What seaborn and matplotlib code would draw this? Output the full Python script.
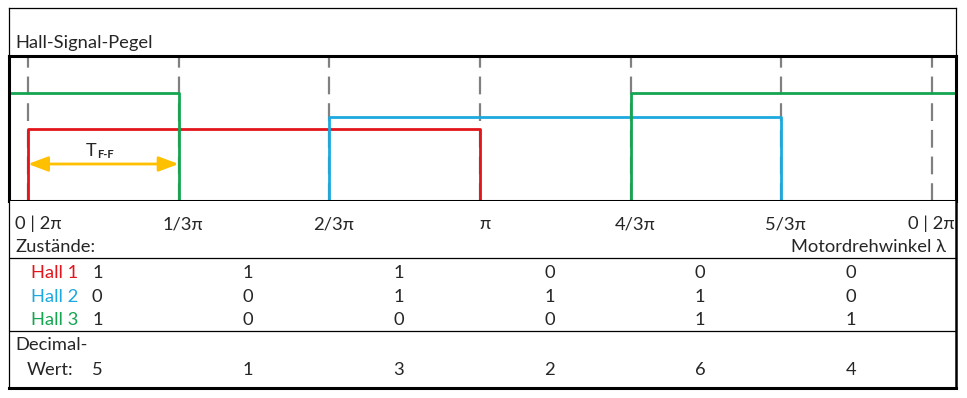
import matplotlib
matplotlib.use("Agg")
import matplotlib.pyplot as plt
import seaborn as sns
import pandas as pd

# ---------------- data ----------------
angles = [0, 1, 2, 3, 4, 5, 6]          # motor angle in units of pi/3
tick_labels = ["0 | 2π", "1/3π", "2/3π", "π", "4/3π", "5/3π", "0 | 2π"]
hall_names = ["Hall 1", "Hall 2", "Hall 3"]
hall1 = [1, 1, 1, 0, 0, 0]
hall2 = [0, 0, 1, 1, 1, 0]
hall3 = [1, 0, 0, 0, 1, 1]
decimal = [5, 1, 3, 2, 6, 4]
# state drawn outside the 0..2pi window (left tail, right tail)
edge_states = {"Hall 1": (0, 0), "Hall 2": (0, 0), "Hall 3": (1, 1)}

# ---------------- style ----------------
sns.set_theme(style="white")
plt.rcParams["font.family"] = ["Lato", "DejaVu Sans"]

colors = {"Hall 1": "#E2141C", "Hall 2": "#1CA9DF", "Hall 3": "#14A550"}
levels = {"Hall 1": 0.50, "Hall 2": 0.58, "Hall 3": 0.745}
FS = 13.2

W, H = 967, 398
fig = plt.figure(figsize=(W / 100, H / 100), dpi=100)
fig.patch.set_facecolor("white")

def fb(top, bottom):
    return 1 - bottom / H, (bottom - top) / H

x0_px, unit_px = 28.0, 150.67
xmin = (9 - x0_px) / unit_px
xmax = (956 - x0_px) / unit_px

# title strip
b, h = fb(8, 56)
ax_t = fig.add_axes([9 / W, b, 947 / W, h])
ax_t.set_xticks([]); ax_t.set_yticks([])
for s in ["top", "left", "right"]:
    ax_t.spines[s].set_linewidth(0.9); ax_t.spines[s].set_color("black")
ax_t.spines["bottom"].set_visible(False)
fig.text(15 / W, 1 - 47.7 / H, "Hall-Signal-Pegel", fontsize=FS, va="baseline", ha="left")

# signal plot
b, h = fb(56, 201)
ax = fig.add_axes([9 / W, b, 947 / W, h])
ax.set_xlim(xmin, xmax)
ax.set_ylim(0, 1)
ax.set_xticks([]); ax.set_yticks([])
for s in ax.spines.values():
    s.set_linewidth(2.2); s.set_color("black"); s.set_zorder(5)

for a in angles:
    ax.axvline(a, color="#808080", lw=1.6, ls=(0, (8, 4)), zorder=1)

states = {"Hall 1": hall1, "Hall 2": hall2, "Hall 3": hall3}
for name in hall_names:
    left, right = edge_states[name]
    xs = [xmin] + angles + [xmax]
    st = [left] + states[name] + [right, right]
    df = pd.DataFrame({"x": xs, "y": [v * levels[name] for v in st]})
    sns.lineplot(data=df, x="x", y="y", ax=ax, color=colors[name], lw=2,
                 drawstyle="steps-post", estimator=None, sort=False, zorder=3)
ax.set_xlabel(""); ax.set_ylabel("")

def py2d(py):
    return (201 - py) / 145

ax.annotate("", xy=(angles[1], py2d(164)), xytext=(angles[0], py2d(164)),
            arrowprops=dict(arrowstyle="<|-|>,head_length=1.2,head_width=0.45",
                            color="#FFC000", lw=2, shrinkA=0, shrinkB=0,
                            mutation_scale=10), zorder=4)
ax.text((86 - x0_px) / unit_px, py2d(156), "T", fontsize=13, va="baseline", ha="left")
ax.text((97.5 - x0_px) / unit_px, py2d(157.5), "F-F", fontsize=8, fontweight="bold",
        va="baseline", ha="left")

# lower state table
b, h = fb(201, 388)
ax2 = fig.add_axes([9 / W, b, 947 / W, h], sharex=ax)
ax2.set_ylim(388, 201)
ax2.set_xlim(xmin, xmax)
ax2.set_xticks([]); ax2.set_yticks([])
ax2.spines["top"].set_visible(False)
ax2.spines["left"].set_linewidth(0.9)
ax2.spines["right"].set_linewidth(1.8)
ax2.spines["bottom"].set_linewidth(2.2)
for s in ax2.spines.values():
    s.set_color("black")
ax2.axhline(258, color="black", lw=0.9)
ax2.axhline(331, color="black", lw=0.9)

tx = ax2.get_yaxis_transform()  # x in axes fraction, y in data
def fx(px):
    return (px - 9) / 947

for i, (a, lab) in enumerate(zip(angles, tick_labels)):
    if i == 0:
        ax2.text(fx(15), 229.5, lab, transform=tx, fontsize=FS, ha="left", va="baseline")
    elif i == len(angles) - 1:
        ax2.text(fx(955), 229.5, lab, transform=tx, fontsize=FS, ha="right", va="baseline")
    else:
        ax2.text(a + 0.03, 229.5, lab, fontsize=FS, ha="center", va="baseline")

ax2.text(fx(15), 252.5, "Zustände:", transform=tx, fontsize=FS, ha="left", va="baseline")
ax2.text(fx(946), 252.5, "Motordrehwinkel λ", transform=tx, fontsize=FS, ha="right",
         va="baseline")

row_base = {"Hall 1": 278, "Hall 2": 301.7, "Hall 3": 325.5}
for name in hall_names:
    yb = row_base[name]
    ax2.text(fx(78), yb, name, transform=tx, fontsize=FS, ha="right", va="baseline",
             color=colors[name])
    for i, v in enumerate(states[name]):
        ax2.text(angles[i] + 0.46, yb, str(v), fontsize=FS, ha="center", va="baseline")

ax2.text(fx(15), 350, "Decimal-", transform=tx, fontsize=FS, ha="left", va="baseline")
ax2.text(fx(27), 375, "Wert:", transform=tx, fontsize=FS, ha="left", va="baseline")
for i, v in enumerate(decimal):
    ax2.text(angles[i] + 0.46, 375, str(v), fontsize=FS, ha="center", va="baseline")

fig.savefig("out.png", dpi=100, facecolor="white")
